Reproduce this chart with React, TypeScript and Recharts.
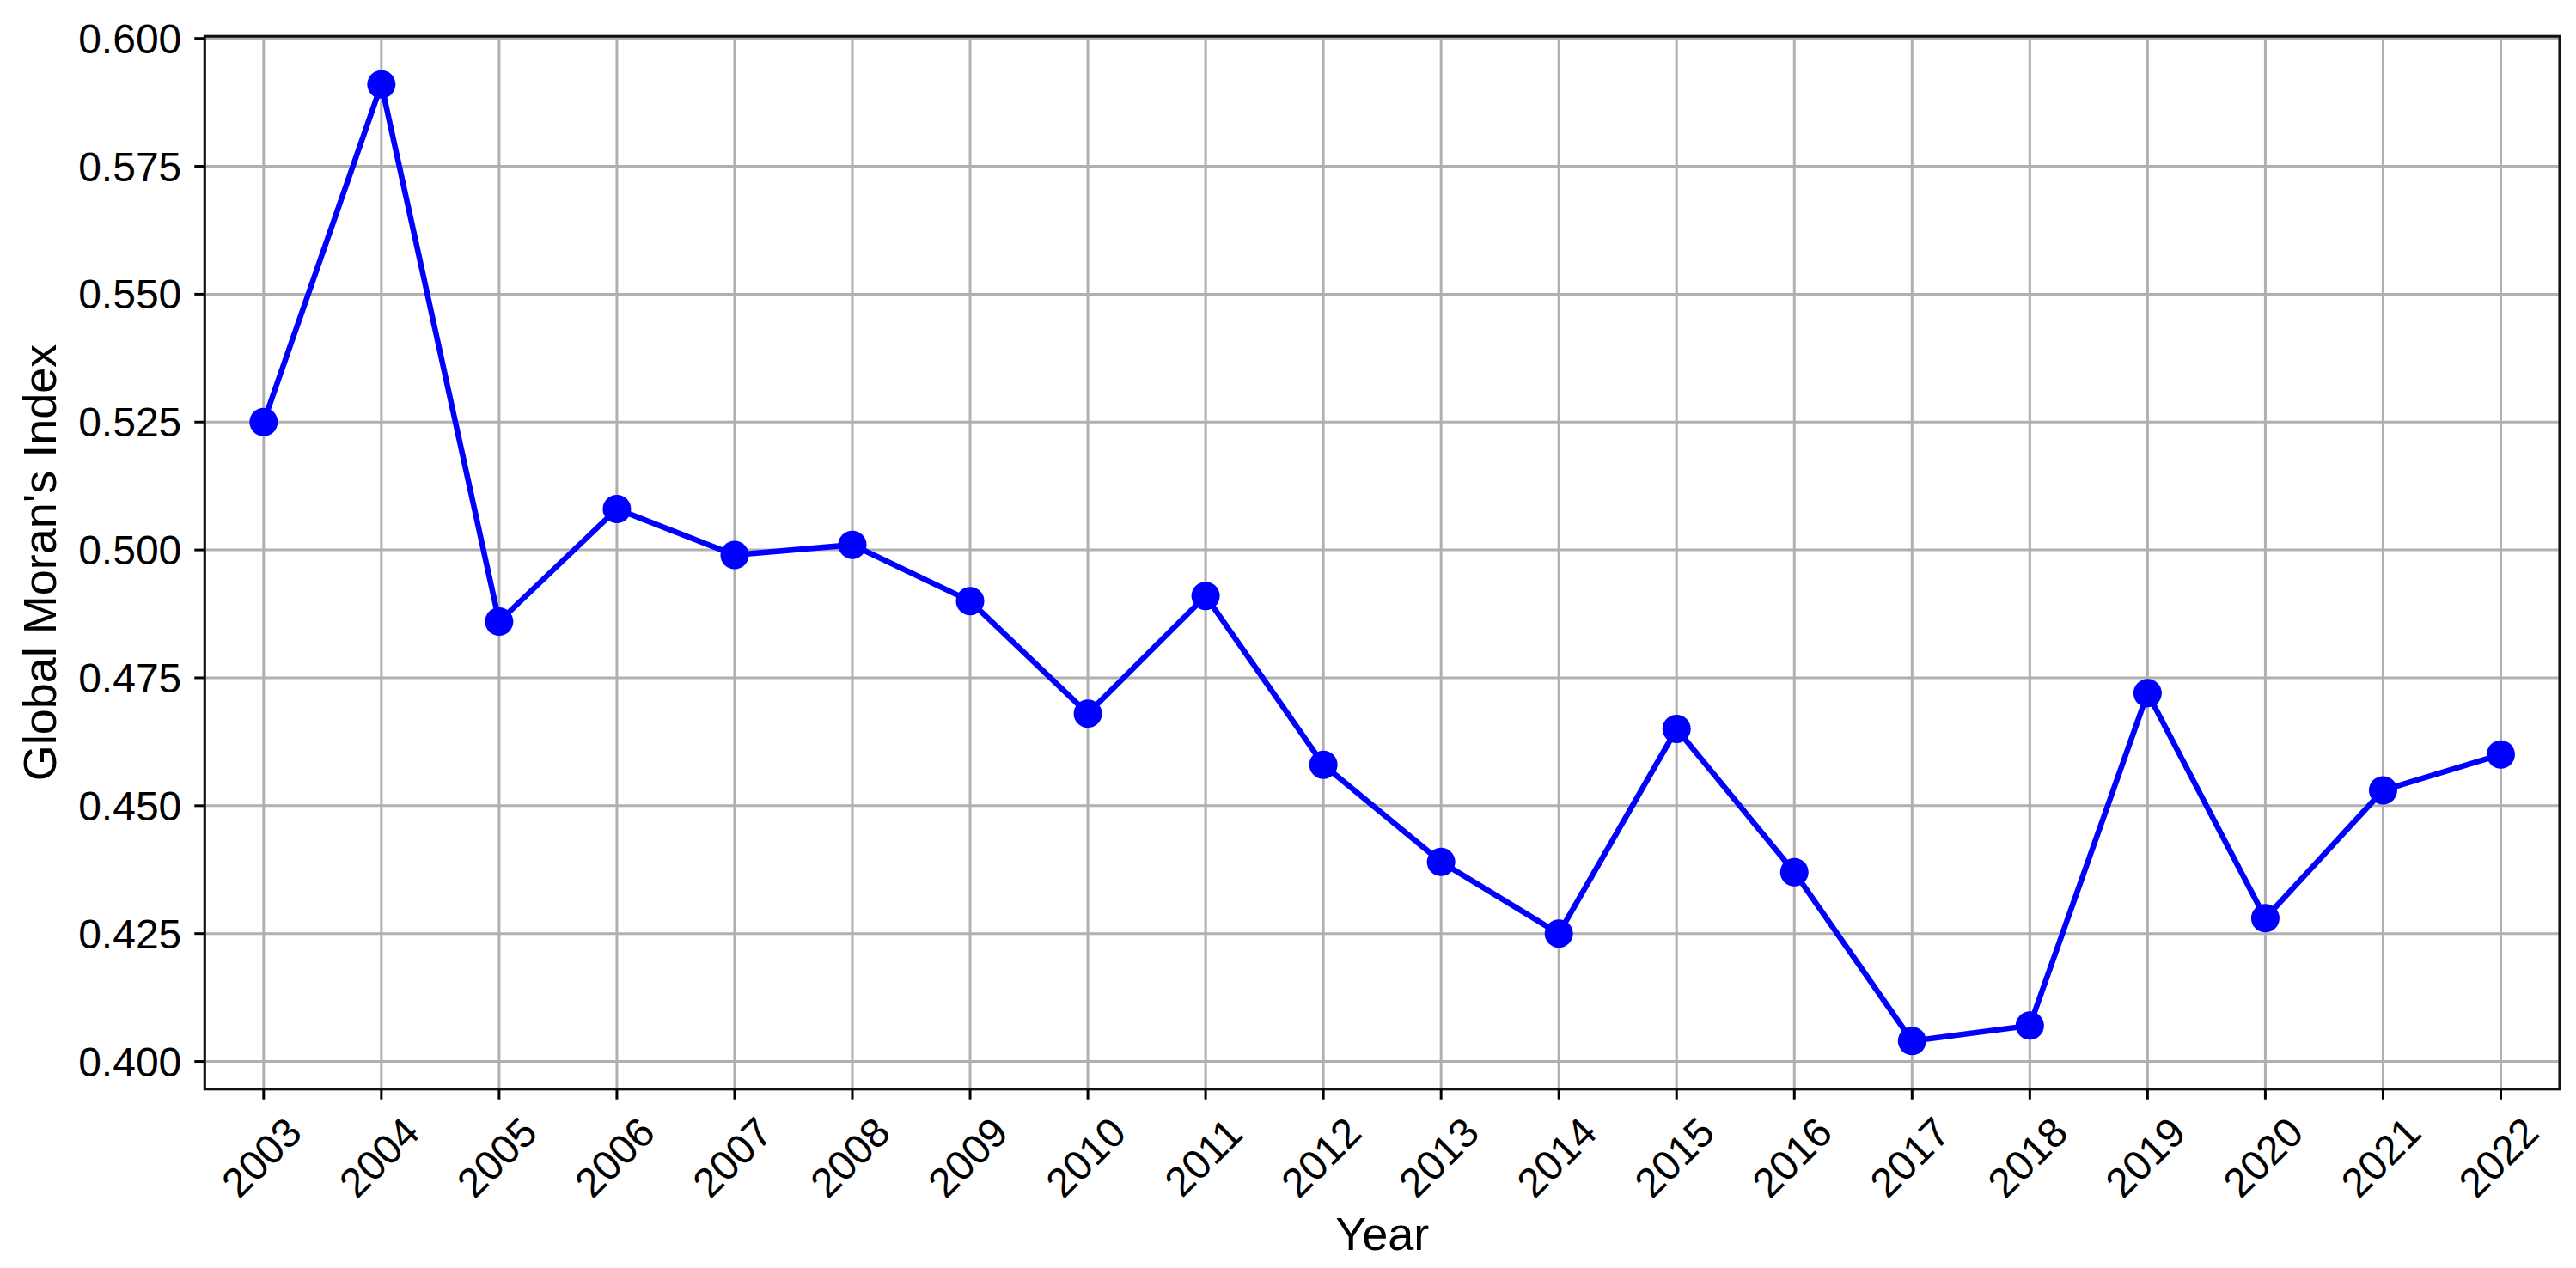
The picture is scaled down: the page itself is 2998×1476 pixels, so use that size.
import { LineChart, Line, XAxis, YAxis, CartesianGrid, ReferenceArea } from 'recharts';

const years = [
    2003, 2004, 2005, 2006, 2007, 2008, 2009, 2010, 2011, 2012,
    2013, 2014, 2015, 2016, 2017, 2018, 2019, 2020, 2021, 2022,
];
const moranIndex = [
    0.525, 0.591, 0.486, 0.508, 0.499, 0.501, 0.490, 0.468, 0.491, 0.458,
    0.439, 0.425, 0.465, 0.437, 0.404, 0.407, 0.472, 0.428, 0.453, 0.460,
];
const yTicks = [0.4, 0.425, 0.45, 0.475, 0.5, 0.525, 0.55, 0.575, 0.6];
const xDomain = [2002.5, 2022.5];
const yDomain = [0.3946, 0.6004];

const data = years.map((year, i) => ({ year, moran: moranIndex[i] }));

const FONT = "'Liberation Sans', Arial, sans-serif";

function YearTick({ x, y, payload }: any) {
    const cx = x - 3;
    const cy = y + 67;
    return (
        <text
            x={cx}
            y={cy}
            dy="0.36em"
            textAnchor="middle"
            fontSize={48}
            fontFamily={FONT}
            fill="#000"
            transform={`rotate(-45, ${cx}, ${cy})`}
        >
            {payload.value}
        </text>
    );
}

export default function App() {
    return (
        <div style={{ position: 'absolute', left: 0, top: 0, background: '#fff' }}>
            <LineChart
                width={2998}
                height={1476}
                data={data}
                margin={{ top: 42.3, right: 19, bottom: 8.3, left: 38.3 }}
            >
                <CartesianGrid stroke="#b0b0b0" strokeWidth={3} />
                <XAxis
                    type="number"
                    dataKey="year"
                    domain={xDomain}
                    ticks={years}
                    allowDataOverflow
                    height={200}
                    axisLine={false}
                    tickLine={{ stroke: '#000', strokeWidth: 3 }}
                    tickSize={12}
                    tickMargin={0}
                    tick={<YearTick />}
                    interval={0}
                    label={() => (
                        <text
                            x={1608.7}
                            y={1455}
                            textAnchor="middle"
                            fontSize={54}
                            fontFamily={FONT}
                            fill="#000"
                        >
                            Year
                        </text>
                    )}
                />
                <YAxis
                    type="number"
                    domain={yDomain}
                    ticks={yTicks}
                    allowDataOverflow
                    width={200}
                    axisLine={false}
                    tickLine={{ stroke: '#000', strokeWidth: 3 }}
                    tickSize={12}
                    tickMargin={15}
                    tickFormatter={(v: number) => v.toFixed(3)}
                    tick={{ fill: '#000', fontSize: 48, fontFamily: FONT }}
                    interval={0}
                    label={() => (
                        <text
                            x={46}
                            y={655}
                            dy="0.36em"
                            textAnchor="middle"
                            fontSize={54}
                            fontFamily={FONT}
                            fill="#000"
                            transform="rotate(-90, 46, 655)"
                        >
                            Global Moran's Index
                        </text>
                    )}
                />
                <ReferenceArea
                    x1={xDomain[0]}
                    x2={xDomain[1]}
                    y1={yDomain[0]}
                    y2={yDomain[1]}
                    fill="none"
                    stroke="#111"
                    strokeWidth={3}
                    fillOpacity={0}
                />
                <Line
                    type="linear"
                    dataKey="moran"
                    stroke="#0000ff"
                    strokeWidth={6.5}
                    dot={{ r: 16.5, fill: '#0000ff', stroke: 'none' }}
                    activeDot={false}
                    isAnimationActive={false}
                />
            </LineChart>
        </div>
    );
}
